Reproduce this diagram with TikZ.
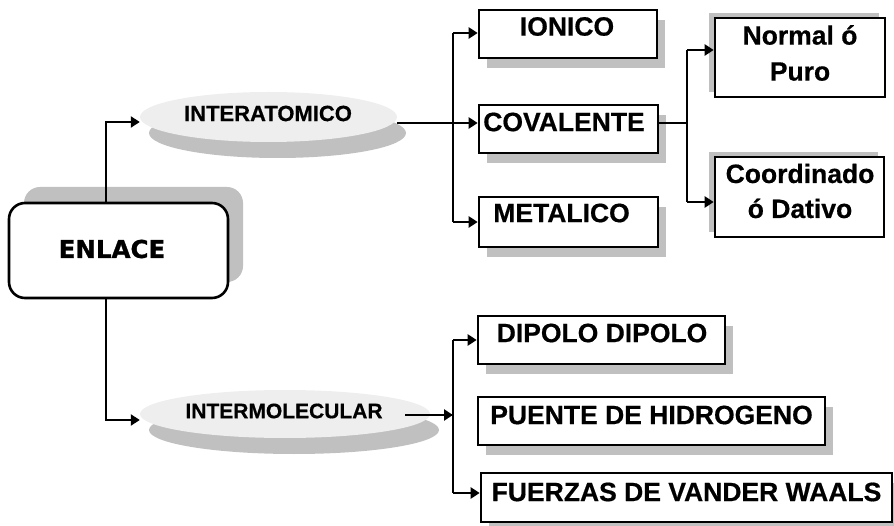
\documentclass[tikz,border=0pt]{standalone}
\usepackage{fontspec}
\setmainfont{Liberation Sans}
\newfontfamily\boldsans{Liberation Sans}[BoldFeatures={FakeBold=0.6}]
\newfontfamily\heavyfont{DejaVu Sans}[BoldFeatures={FakeBold=1.2}]
\usetikzlibrary{arrows.meta,shapes.geometric,shadows}
\definecolor{shadegray}{HTML}{C0C0C0}
\definecolor{ellfill}{HTML}{EEEEEE}
\tikzset{
  conn/.style={line width=2.8pt},
  arr/.style={conn,-{Triangle[length=9pt,width=11pt]}},
  boxshape/.style={draw,line width=2.6pt,fill=white,inner sep=0pt,
    drop shadow={shadow xshift=8pt,shadow yshift=-10pt,fill=shadegray,opacity=1}},
  subshape/.style={draw,line width=2.6pt,fill=white,inner sep=0pt,
    drop shadow={shadow xshift=-6pt,shadow yshift=5pt,fill=shadegray,opacity=1}},
  ellshape/.style={ellipse,fill=ellfill,inner sep=0pt,
    drop shadow={shadow xshift=9pt,shadow yshift=-16pt,fill=shadegray,opacity=1}},
  rootshape/.style={draw,line width=2.6pt,fill=white,rounded corners=16pt,inner sep=0pt,
    drop shadow={shadow xshift=15pt,shadow yshift=16pt,fill=shadegray,opacity=1}},
  boxtext/.style={inner sep=0pt,font=\boldsans\fontsize{26.5}{36}\selectfont\bfseries,align=center},
  elltext/.style={inner sep=0pt,font=\boldsans\fontsize{22}{26}\selectfont\bfseries},
  roottext/.style={inner sep=0pt,font=\heavyfont\fontsize{24.5}{28}\selectfont\bfseries},
}
\begin{document}
\begin{tikzpicture}[x=1pt,y=-1pt]
\useasboundingbox (0,0) rectangle (894,526);

% root
\node[rootshape,minimum width=219pt,minimum height=95pt] (enlace) at (118.5,250.5) {};
\node[roottext] (enlacet) at (112,249) {ENLACE};

% ellipses
\node[ellshape,minimum width=257pt,minimum height=50pt] (interat) at (268.5,117) {};
\node[elltext] (interatt) at (268,113.5) {INTERATOMICO};
\node[ellshape,minimum width=290pt,minimum height=48pt] (intermol) at (285,414) {};
\node[elltext,font=\boldsans\fontsize{21}{25}\selectfont\bfseries] (intermolt) at (284,411) {INTERMOLECULAR};

% interatomic boxes
\node[boxshape,minimum width=178pt,minimum height=48pt] (ionico) at (568,34) {};
\node[boxtext] (ionicot) at (567,26.5) {IONICO};
\node[boxshape,minimum width=179pt,minimum height=48pt] (covalente) at (568.5,129) {};
\node[boxtext] (covalentet) at (564,122) {COVALENTE};
\node[boxshape,minimum width=179pt,minimum height=50pt] (metalico) at (568.5,222) {};
\node[boxtext] (metalicot) at (561.5,213) {METALICO};

% covalent sub boxes
\node[subshape,minimum width=170pt,minimum height=79pt] (normal) at (800,57.5) {};
\node[boxtext] (normalt) at (800,53) {Normal ó\\Puro};
\node[subshape,minimum width=169pt,minimum height=80pt] (coord) at (799.5,197) {};
\node[boxtext,font=\boldsans\fontsize{26.5}{35}\selectfont\bfseries] (coordt) at (800,191) {Coordinado\\ó Dativo};

% intermolecular boxes
\node[boxshape,minimum width=247pt,minimum height=48pt] (dipolo) at (601.5,340) {};
\node[boxtext] (dipolot) at (602,333) {DIPOLO DIPOLO};
\node[boxshape,minimum width=347pt,minimum height=48pt] (puente) at (651.5,421) {};
\node[boxtext] (puentet) at (651.5,415) {PUENTE DE HIDROGENO};
\node[boxshape,minimum width=411pt,minimum height=49pt] (fuerzas) at (686.5,497.5) {};
\node[boxtext] (fuerzast) at (686.5,492) {FUERZAS DE VANDER WAALS};

% coordinates for buses
\coordinate (rootx) at (106,0);
\coordinate (busA) at (453,0);
\coordinate (busB) at (687,0);

% root connectors
\draw[arr] (enlace.north -| rootx) -- (106,122) -- (interat.west |- 0,122);
\draw[arr] (enlace.south -| rootx) -- (106,420) -- (intermol.west |- 0,420);

% interatomico
\draw[arr] (interat.east |- 0,123) -- (covalente.west |- 0,123);
\draw[conn] (453,33) -- (453,222);
\draw[arr] (453,33) -- (ionico.west |- 0,33);
\draw[arr] (453,222) -- (metalico.west |- 0,222);

% covalente
\draw[conn] (covalente.east |- 0,123) -- (687,123);
\draw[conn] (687,50) -- (687,202);
\draw[arr] (687,50) -- (normal.west |- 0,50);
\draw[arr] (687,202) -- (coord.west |- 0,202);

% intermolecular
\draw[arr] (405,415) -- (busA |- 0,415);
\draw[conn] (453,340) -- (453,493);
\draw[arr] (453,340) -- (dipolo.west |- 0,340);
\draw[arr] (453,493) -- (fuerzas.west |- 0,493);
\end{tikzpicture}
\end{document}
